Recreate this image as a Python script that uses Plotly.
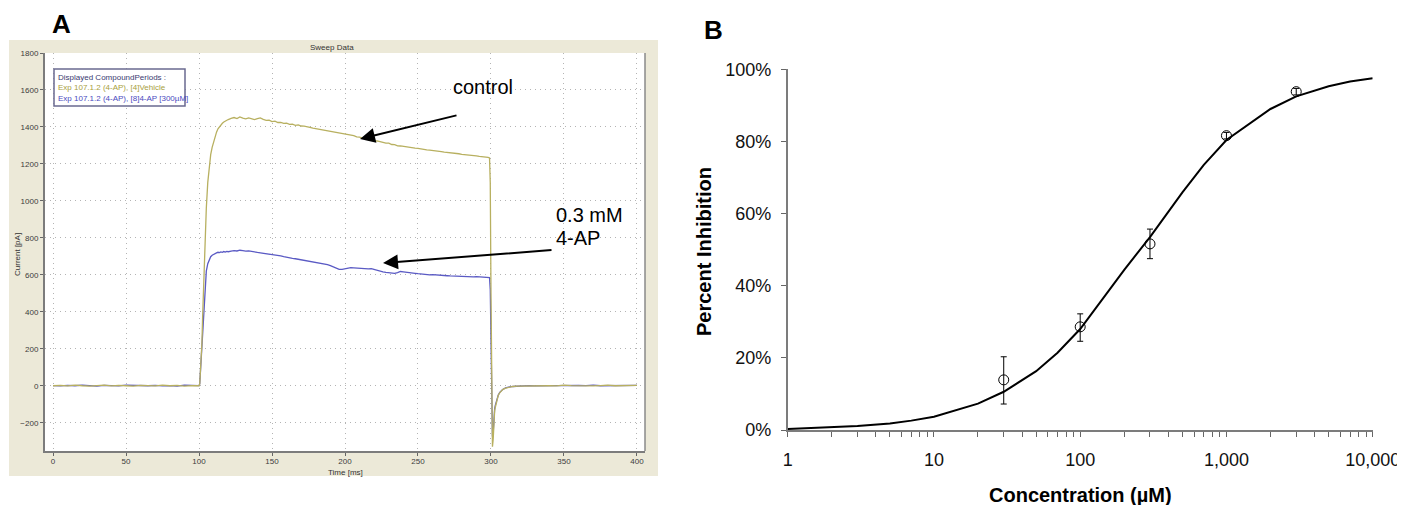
import plotly.graph_objects as go

# The page body keeps the browser's default 8px margin, so layout
# positions below are reference-picture pixels shifted by OFF.
W, H = 1405, 505
OFF = 8
FW, FH = W - OFF, H - OFF

# ---------------- Panel A data ----------------
time_ms = ([0, 5, 10, 15, 20, 25, 30, 35, 40, 45, 50, 55, 60, 65, 70, 75, 80, 85, 90, 95, 100]
           + [100.5, 101, 101.5, 102, 102.5, 103, 103.5, 104, 105, 106, 107, 108, 109, 110,
              111, 112, 113, 114, 115, 116, 117, 118, 119, 120]
           + list(range(122, 299, 2))
           + [299, 299.5, 300, 300.3, 300.6, 301, 301.5, 302, 302.5, 303, 304, 305, 306, 307,
              308, 310, 312, 315, 318, 322, 326, 330]
           + [335, 340, 345, 350, 355, 360, 365, 370, 375, 380, 385, 390, 395, 400])

control_pA = ([0, 2, -1, 3, 0, -2, 1, 3, -1, 2, 0, -2, 2, 1, -1, 3, 0, 2, -2, 1, 0]
              + [10, 80, 150, 230, 380, 520, 650, 760, 960, 1100, 1190, 1250, 1290, 1320,
                 1350, 1372, 1390, 1402, 1412, 1420, 1427, 1432, 1437, 1440]
              + [1446, 1451, 1445, 1454, 1448, 1444, 1449, 1443, 1440, 1445, 1449, 1441, 1436,
                 1437, 1429, 1431, 1424, 1425, 1419, 1420, 1414, 1415, 1409, 1411, 1405, 1404,
                 1399, 1398, 1394, 1391, 1390, 1384, 1384, 1379, 1377, 1372, 1371, 1366, 1365,
                 1359, 1359, 1353, 1353, 1346, 1345, 1339, 1338, 1332, 1331, 1326, 1324, 1319,
                 1317, 1312, 1312, 1305, 1304, 1298, 1297, 1294, 1292, 1289, 1288, 1285, 1284,
                 1280, 1280, 1276, 1275, 1272, 1271, 1268, 1267, 1264, 1263, 1260, 1260, 1256,
                 1255, 1252, 1251, 1248, 1248, 1245, 1244, 1241, 1240, 1237, 1235]
              + [1232, 1100, 500, 0, -200, -330, -290, -190, -135, -115, -76, -52, -38, -28,
                 -21, -13, -8, -4, -2, -1, 0, 1]
              + [2, 0, -1, 3, 1, 0, 2, -1, 1, 3, 0, 2, 1, 2])

ap4_pA = ([1, -1, 2, 0, 3, -1, -2, 2, 0, -1, 3, 1, -2, 0, 2, -1, 1, -2, 3, 0, 1]
          + [10, 80, 150, 220, 290, 380, 470, 540, 620, 660, 685, 698, 706, 712,
             716, 719, 722, 720, 724, 722, 726, 723, 727, 725]
          + [728, 731, 729, 733, 731, 728, 730, 726, 723, 721, 719, 717, 715, 713, 710, 707,
             705, 702, 698, 694, 692, 689, 687, 684, 681, 679, 676, 674, 671, 669, 667, 664,
             660, 655, 650, 643, 636, 630, 629, 633, 636, 639, 638, 636, 634, 635, 633, 632,
             633, 628, 624, 620, 616, 613, 611, 609, 608, 612, 618, 616, 613, 611, 609, 608,
             606, 604, 603, 601, 600, 601, 599, 598, 597, 596, 595, 594, 593, 594, 592, 591,
             592, 590, 591, 589, 590, 588, 589, 587, 586]
          + [585, 520, 250, 0, -130, -275, -255, -170, -125, -105, -72, -50, -36, -27,
             -20, -12, -7, -4, -2, 0, 1, -1]
          + [0, 1, 2, -1, 0, 2, 1, 3, 0, 1, 2, 0, 1, 2])

a_xticks = [0, 50, 100, 150, 200, 250, 300, 350, 400]
a_yticks = [-200, 0, 200, 400, 600, 800, 1000, 1200, 1400, 1600, 1800]
legend_lines = ["Displayed CompoundPeriods :",
                "Exp 107.1.2 (4-AP), [4]Vehicle",
                "Exp 107.1.2 (4-AP), [8]4-AP [300µM]"]

# ---------------- Panel B data ----------------
conc_fit = [1, 2, 3, 5, 7, 10, 20, 30, 50, 70, 100, 200, 300, 500, 700, 1000, 2000, 3000,
            5000, 7000, 10000]
inhib_fit = [0.3, 0.7, 1.1, 1.8, 2.6, 3.7, 7.3, 10.6, 16.3, 21.4, 28.0, 44.4, 53.5, 65.9,
             73.5, 80.4, 89.0, 92.5, 95.3, 96.6, 97.5]

conc_pts = [30, 100, 300, 1000, 3000]
inhib_pts = [13.9, 28.6, 51.6, 81.6, 93.8]
err_plus = [6.4, 3.6, 4.1, 0.9, 0.9]
err_minus = [6.7, 4.0, 4.1, 0.9, 0.9]

b_xtickvals = ([1, 2, 3, 4, 5, 6, 7, 8, 9, 10, 20, 30, 40, 50, 60, 70, 80, 90,
                100, 200, 300, 400, 500, 600, 700, 800, 900,
                1000, 2000, 3000, 4000, 5000, 6000, 7000, 8000, 9000, 10000])
b_xlabels = {1: "1", 10: "10", 100: "100", 1000: "1,000", 10000: "10,000"}
b_yticks = [0, 20, 40, 60, 80, 100]
b_ylabels = ["0%", "20%", "40%", "60%", "80%", "100%"]

OLIVE = "#b8b060"
BLUE = "#5a5ac4"
FONT = "Liberation Sans, Arial, sans-serif"


def px(x):
    return (x - OFF) / FW


def py(y):
    return 1 - (y - OFF) / FH


fig = go.Figure()

fig.add_trace(go.Scatter(x=time_ms, y=ap4_pA, mode="lines",
                         line=dict(color=BLUE, width=1.3), xaxis="x", yaxis="y",
                         showlegend=False))
fig.add_trace(go.Scatter(x=time_ms, y=control_pA, mode="lines",
                         line=dict(color=OLIVE, width=1.3), xaxis="x", yaxis="y",
                         showlegend=False))

fig.add_trace(go.Scatter(x=conc_fit, y=inhib_fit, mode="lines",
                         line=dict(color="black", width=2), xaxis="x2", yaxis="y2",
                         showlegend=False))
fig.add_trace(go.Scatter(x=conc_pts, y=inhib_pts, mode="markers",
                         marker=dict(symbol="circle-open", size=10,
                                     color="black", line=dict(width=1)),
                         error_y=dict(type="data", array=err_plus, arrayminus=err_minus,
                                      color="black", thickness=1, width=3),
                         xaxis="x2", yaxis="y2", showlegend=False))

shapes = [
    dict(type="rect", xref="paper", yref="paper", layer="below",
         x0=px(9), x1=px(658), y0=py(476), y1=py(40),
         fillcolor="#ece9d8", line=dict(width=0)),
    dict(type="rect", xref="paper", yref="paper", layer="below",
         x0=px(45), x1=px(645), y0=py(451), y1=py(53),
         fillcolor="white", line=dict(width=0)),
    dict(type="line", xref="paper", yref="paper",
         x0=px(645), x1=px(645), y0=py(451), y1=py(53),
         line=dict(color="#8a8a8a", width=1.5)),
    dict(type="rect", xref="paper", yref="paper", layer="above",
         x0=px(54), x1=px(185), y0=py(106), y1=py(69),
         fillcolor="white", line=dict(color="#6a6a90", width=1.5)),
]

legend_colors = ["#3a3a70", "#a8a040", "#4a4ac0"]
legend_y = [77, 88, 99]


def label(text, x, y, size, color="black", xanchor="center", angle=0):
    return dict(text=text, x=px(x), y=py(y), xref="paper", yref="paper",
                xanchor=xanchor, yanchor="middle", showarrow=False, textangle=angle,
                font=dict(family=FONT, size=size, color=color))


def arrow(head_x, head_y, tail_x, tail_y):
    return dict(text="", x=px(head_x), y=py(head_y), xref="paper", yref="paper",
                showarrow=True, ax=tail_x - head_x, ay=tail_y - head_y,
                arrowhead=2, arrowsize=1.5, arrowwidth=2, arrowcolor="black")


annotations = [
    label("<b>A</b>", 61, 24, 26),
    label("<b>B</b>", 713, 30, 26),
    label("Sweep Data", 332, 48, 8, "#333"),
    label("Current [pA]", 17, 255, 8, "#333", angle=-90),
    label("Time [ms]", 345, 472, 8, "#333"),
    label("control", 483, 87, 20),
    label("0.3 mM", 554, 215, 20, xanchor="left"),
    label("4-AP", 554, 238, 20, xanchor="left"),
    arrow(360, 139, 458, 115),
    arrow(383, 263, 553, 250),
    label("<b>Percent Inhibition</b>", 704, 252, 20, angle=-90),
    label("<b>Concentration (µM)</b>", 1080, 495, 20),
]
for txt, col, yy in zip(legend_lines, legend_colors, legend_y):
    annotations.append(label(txt, 56, yy, 8, col, xanchor="left"))

grid_a = dict(showgrid=True, gridcolor="#b4b4b4", griddash="1px,4px", gridwidth=1)

fig.update_layout(
    width=FW, height=FH, autosize=False,
    margin=dict(l=0, r=0, t=0, b=0, pad=0, autoexpand=False),
    paper_bgcolor="white", plot_bgcolor="white",
    showlegend=False,
    shapes=shapes, annotations=annotations,
    xaxis=dict(domain=[px(45), px(645)], range=[-5.5, 405.5], tickvals=a_xticks,
               ticks="outside", ticklen=3, tickcolor="#666", zeroline=False,
               showline=True, linecolor="#7c7c7c", linewidth=2, automargin=False,
               ticklabelstandoff=-2,
               tickfont=dict(family=FONT, size=8, color="#3c3c3c"),
               anchor="y", **grid_a),
    yaxis=dict(domain=[py(451), py(53)], range=[-353, 1800], tickvals=a_yticks,
               ticks="outside", ticklen=3, tickcolor="#666", zeroline=False,
               showline=True, linecolor="#7c7c7c", linewidth=2, automargin=False,
               tickfont=dict(family=FONT, size=8, color="#3c3c3c"),
               anchor="x", **grid_a),
    xaxis2=dict(domain=[px(787.7), px(1372.7)], type="log", range=[0, 4],
                tickvals=b_xtickvals,
                ticktext=[b_xlabels.get(v, "") for v in b_xtickvals],
                ticks="outside", ticklen=5, tickcolor="#666", tickwidth=1,
                showline=True, linecolor="#7c7c7c", linewidth=1.5, automargin=False,
                showgrid=False, zeroline=False, ticklabelstandoff=8,
                tickfont=dict(family=FONT, size=18, color="#111"), anchor="y2"),
    yaxis2=dict(domain=[py(430), py(69.3)], range=[0, 100], tickvals=b_yticks,
                ticktext=b_ylabels, ticks="outside", ticklen=5, tickcolor="#666",
                tickwidth=1, showline=True, linecolor="#7c7c7c", linewidth=1.5,
                automargin=False, showgrid=False, zeroline=False, ticklabelstandoff=6,
                tickfont=dict(family=FONT, size=18, color="#111"), anchor="x2"),
)

fig.write_html("out.html")
